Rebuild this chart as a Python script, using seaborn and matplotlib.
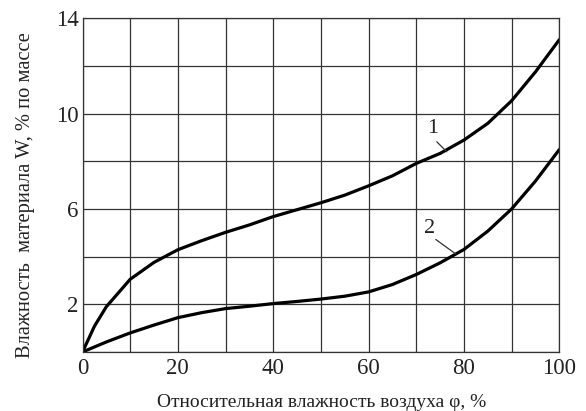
import matplotlib
matplotlib.use("Agg")
import matplotlib.pyplot as plt
import seaborn as sns
import pandas as pd

# values (relative humidity, % -> material moisture, %)
phi_1 = [0, 2.5, 5, 10, 15, 20, 25, 30, 35, 40, 45, 50, 55, 60, 65, 70, 75, 80, 85, 90, 95, 100]
w_1 = [0, 1.08, 1.9, 3.05, 3.76, 4.29, 4.67, 5.02, 5.33, 5.68, 5.97, 6.26, 6.58, 6.97, 7.39, 7.91, 8.33, 8.89, 9.59, 10.54, 11.75, 13.1]

phi_2 = [0, 5, 10, 15, 20, 25, 30, 35, 40, 45, 50, 55, 60, 65, 70, 75, 80, 85, 90, 95, 100]
w_2 = [0, 0.42, 0.8, 1.13, 1.44, 1.65, 1.82, 1.92, 2.03, 2.12, 2.22, 2.34, 2.52, 2.83, 3.25, 3.74, 4.3, 5.07, 6.0, 7.17, 8.49]

x_ticks = [0, 10, 20, 30, 40, 50, 60, 70, 80, 90, 100]
x_tick_labels = ["0", "", "20", "", "40", "", "60", "", "80", "", "100"]
y_ticks = [0, 2, 4, 6, 8, 10, 12, 14]
y_tick_labels = ["", "2", "", "6", "", "10", "", "14"]

curve_labels = ["1", "2"]

df = pd.concat([
    pd.DataFrame({"phi": phi_1, "w": w_1, "curve": "1"}),
    pd.DataFrame({"phi": phi_2, "w": w_2, "curve": "2"}),
])

sns.set_style("white")
plt.rcParams["font.family"] = ["Liberation Serif", "DejaVu Serif"]

fig = plt.figure(figsize=(5.86, 4.11), dpi=100)
ax = fig.add_axes([0.1408, 0.1436, 0.8136, 0.8119])

for name in curve_labels:
    sub = df[df["curve"] == name]
    sns.lineplot(data=sub, x="phi", y="w", ax=ax, color="black", lw=2.3,
                 sort=False, estimator=None, legend=False)

ax.set_xlim(0, 100)
ax.set_ylim(0, 14)
ax.set_xticks(x_ticks)
ax.set_xticklabels(x_tick_labels, fontsize=16.5, color="#222222")
ax.set_yticks(y_ticks)
ax.set_yticklabels(y_tick_labels, fontsize=16.5, color="#222222")
ax.tick_params(axis="x", length=0, pad=4)
ax.tick_params(axis="y", length=0, pad=3)
ax.grid(True, color="#333333", lw=0.9)
for sp in ax.spines.values():
    sp.set_color("#333333")
    sp.set_linewidth(0.9)

ax.set_xlabel("Относительная влажность воздуха φ, %", fontsize=14, color="#222222")
ax.xaxis.set_label_coords(0.502, -0.125)
ax.set_ylabel("Влажность  материала W, % по массе", fontsize=14.8, color="#222222")
ax.yaxis.set_label_coords(-0.099, 0.47)

# curve numbers with short leader lines
ax.text(73.5, 9.38, "1", fontsize=16, ha="center", va="center", color="#222222")
ax.plot([74.3, 76.4], [8.82, 8.40], color="#333333", lw=0.9)
ax.text(72.7, 5.16, "2", fontsize=16, ha="center", va="center", color="#222222")
ax.plot([74.1, 78.3], [4.72, 4.11], color="#333333", lw=0.9)

fig.savefig("out.png", dpi=100)
